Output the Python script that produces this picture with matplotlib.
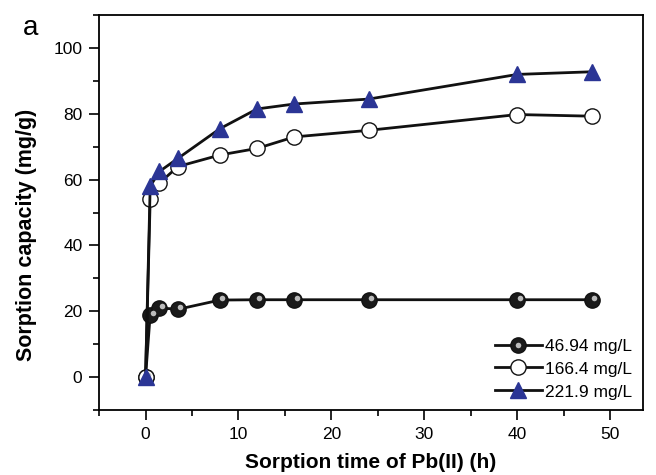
import matplotlib
matplotlib.use("Agg")
import matplotlib.pyplot as plt
from matplotlib.ticker import MultipleLocator
from matplotlib.legend_handler import HandlerTuple

plt.rcParams['font.family'] = ['Liberation Sans', 'DejaVu Sans']

# sorption time (h)
time_h = [0, 0.5, 1.5, 3.5, 8, 12, 16, 24, 40, 48]
# sorption capacity (mg/g) for each initial concentration
q_46 = [0, 19.0, 21.0, 20.6, 23.4, 23.5, 23.5, 23.5, 23.5, 23.5]
q_166 = [0, 54.0, 59.0, 64.0, 67.5, 69.5, 73.0, 75.0, 79.8, 79.3]
q_221 = [0, 58.0, 62.5, 66.5, 75.5, 81.5, 83.0, 84.5, 92.0, 92.8]
labels = ['46.94 mg/L', '166.4 mg/L', '221.9 mg/L']

fig = plt.figure(figsize=(6.56, 4.75), dpi=100)
ax = fig.add_axes([0.151, 0.137, 0.829, 0.831])

blue = '#2B3595'

# series 1: black "spheres" with a grey highlight
l1, = ax.plot(time_h, q_46, '-', color='#111111', lw=2, marker='o', ms=11,
              mfc='#1a1a1a', mec='#111111', zorder=3)
hl, = ax.plot([t + 0.25 for t in time_h], [q + 0.6 for q in q_46], ls='none',
              marker='o', ms=4, mfc='#bbbbbb', mec='none', zorder=4)
l2, = ax.plot(time_h, q_166, '-', color='#111111', lw=2, marker='o', ms=11,
              mfc='white', mec='#111111', mew=1, zorder=3)
l3, = ax.plot(time_h, q_221, '-', color='#111111', lw=2, marker='^', ms=12,
              mfc=blue, mec=blue, zorder=5)

ax.set_xlim(-5, 53.5)
ax.set_ylim(-10, 110)
ax.xaxis.set_major_locator(MultipleLocator(10))
ax.xaxis.set_minor_locator(MultipleLocator(5))
ax.yaxis.set_major_locator(MultipleLocator(20))
ax.yaxis.set_minor_locator(MultipleLocator(10))
ax.tick_params(which='both', direction='out', top=False, right=False,
               width=1.2, labelsize=12.5)
ax.tick_params(which='major', length=7, pad=5)
ax.tick_params(which='minor', length=4)
for s in ax.spines.values():
    s.set_linewidth(1.3)

ax.set_xlabel('Sorption time of Pb(II) (h)', fontsize=15, fontweight='bold', labelpad=8)
ax.set_ylabel('Sorption capacity (mg/g)', fontsize=15.5, fontweight='bold')
ax.yaxis.set_label_coords(-0.115, 0.443)

fig.text(0.035, 0.926, 'a', fontsize=20)

ax.legend([(l1, hl), l2, l3], labels, loc='lower right', frameon=False, fontsize=12.5,
          handlelength=2.7, handletextpad=0.2, labelspacing=0.45,
          borderaxespad=0.2, handler_map={tuple: HandlerTuple(ndivide=1)})

fig.savefig('out.png', dpi=100)
